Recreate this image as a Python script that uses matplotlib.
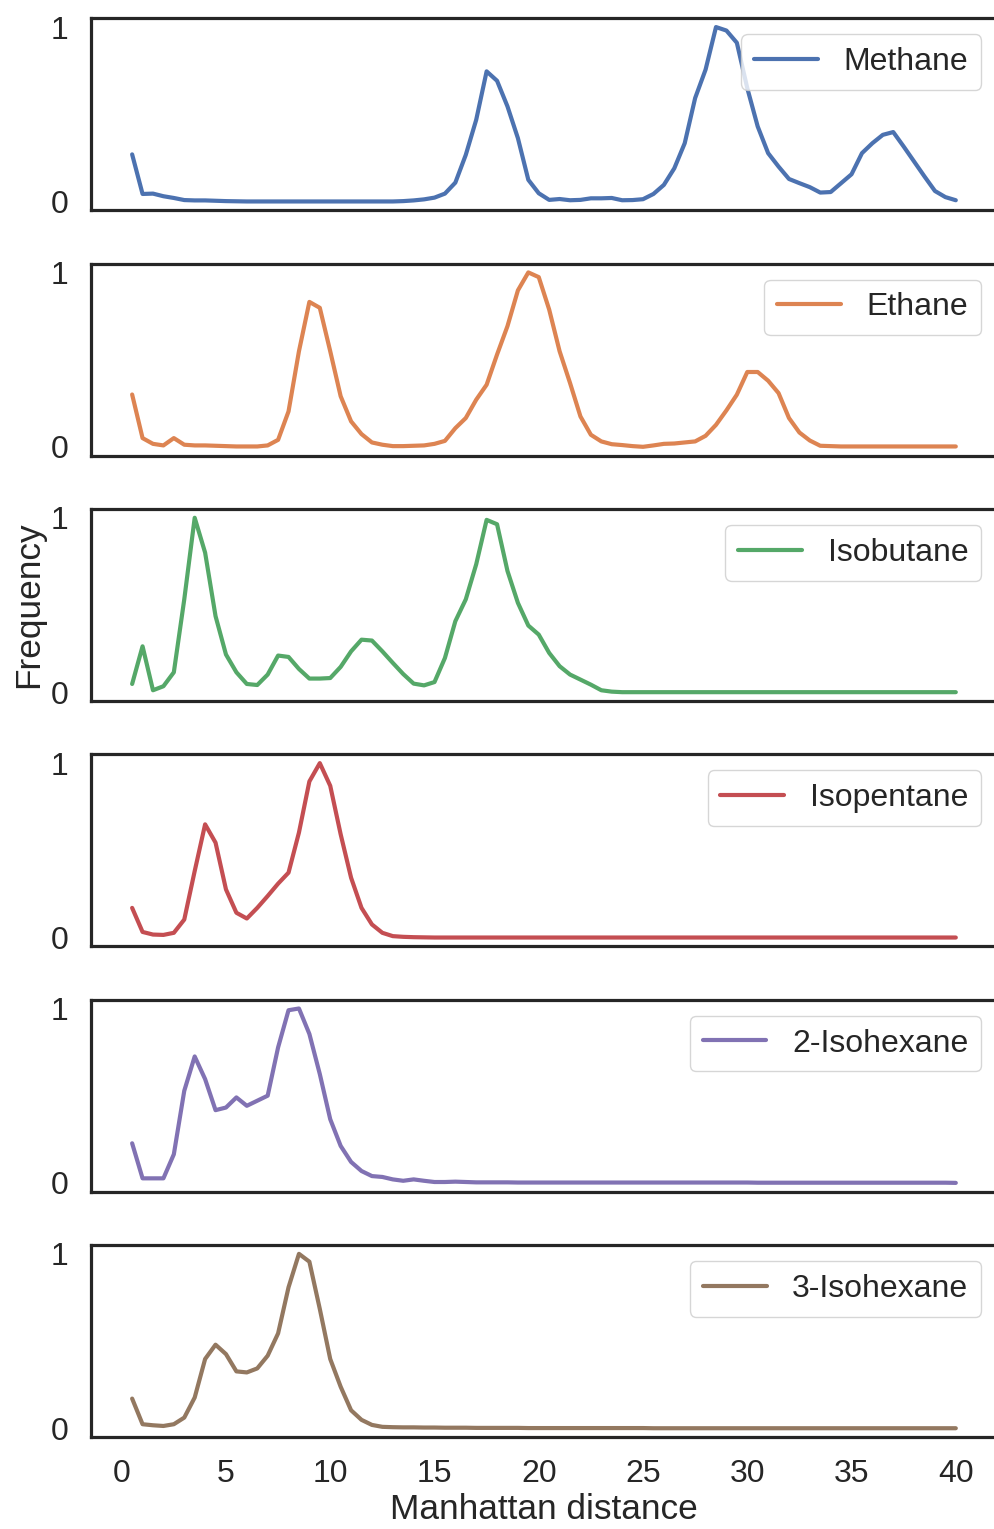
import numpy as np
import matplotlib
matplotlib.use("Agg")
import matplotlib.pyplot as plt
import seaborn as sns

# Manhattan distance grid (0.5 .. 40, step 0.5)
distance = np.arange(1, 81) * 0.5

methane = [
    0.27, 0.043, 0.045, 0.03, 0.02, 0.008, 0.006, 0.006, 0.004, 0.002,
    0.001, 0.0, 0.0, 0.0, 0.0, 0.0, 0.0, 0.0, 0.0, 0.0,
    0.0, 0.0, 0.0, 0.0, 0.0, 0.0, 0.002, 0.006, 0.012, 0.022,
    0.045, 0.108, 0.267, 0.468, 0.746, 0.692, 0.545, 0.363, 0.124, 0.047,
    0.009, 0.014, 0.007, 0.009, 0.018, 0.018, 0.02, 0.007, 0.008, 0.013,
    0.043, 0.095, 0.19, 0.334, 0.593, 0.756, 1.0, 0.98, 0.91, 0.65,
    0.43, 0.277, 0.2, 0.129, 0.105, 0.082, 0.051, 0.054, 0.105, 0.156,
    0.277, 0.334, 0.382, 0.398, 0.315, 0.229, 0.143, 0.06, 0.025, 0.007,
]

ethane = [
    0.30, 0.05, 0.017, 0.008, 0.05, 0.012, 0.008, 0.008, 0.006, 0.004,
    0.002, 0.002, 0.002, 0.008, 0.04, 0.203, 0.548, 0.831, 0.797, 0.548,
    0.29, 0.146, 0.073, 0.025, 0.012, 0.004, 0.004, 0.006, 0.008, 0.017,
    0.034, 0.107, 0.165, 0.27, 0.356, 0.529, 0.692, 0.897, 1.0, 0.973,
    0.787, 0.548, 0.366, 0.174, 0.069, 0.031, 0.015, 0.01, 0.004, 0.0,
    0.008, 0.017, 0.019, 0.025, 0.031, 0.063, 0.126, 0.209, 0.299, 0.429,
    0.429, 0.379, 0.308, 0.165, 0.082, 0.036, 0.006, 0.004, 0.002, 0.002,
    0.002, 0.002, 0.002, 0.002, 0.002, 0.002, 0.002, 0.002, 0.002, 0.002,
]

isobutane = [
    0.047, 0.263, 0.011, 0.034, 0.114, 0.532, 1.0, 0.80, 0.436, 0.216,
    0.114, 0.047, 0.041, 0.101, 0.21, 0.202, 0.133, 0.078, 0.078, 0.081,
    0.145, 0.234, 0.301, 0.296, 0.234, 0.168, 0.104, 0.049, 0.039, 0.058,
    0.196, 0.407, 0.532, 0.733, 0.988, 0.963, 0.695, 0.512, 0.382, 0.33,
    0.225, 0.149, 0.101, 0.072, 0.043, 0.011, 0.003, 0.0, 0.0, 0.0,
    0.0, 0.0, 0.0, 0.0, 0.0, 0.0, 0.0, 0.0, 0.0, 0.0,
    0.0, 0.0, 0.0, 0.0, 0.0, 0.0, 0.0, 0.0, 0.0, 0.0,
    0.0, 0.0, 0.0, 0.0, 0.0, 0.0, 0.0, 0.0, 0.0, 0.0,
]

isopentane = [
    0.17, 0.032, 0.017, 0.015, 0.027, 0.103, 0.381, 0.649, 0.544, 0.276,
    0.142, 0.109, 0.17, 0.238, 0.309, 0.372, 0.602, 0.895, 1.0, 0.87,
    0.592, 0.343, 0.17, 0.075, 0.027, 0.008, 0.004, 0.002, 0.001, 0.0,
    0.0, 0.0, 0.0, 0.0, 0.0, 0.0, 0.0, 0.0, 0.0, 0.0,
    0.0, 0.0, 0.0, 0.0, 0.0, 0.0, 0.0, 0.0, 0.0, 0.0,
    0.0, 0.0, 0.0, 0.0, 0.0, 0.0, 0.0, 0.0, 0.0, 0.0,
    0.0, 0.0, 0.0, 0.0, 0.0, 0.0, 0.0, 0.0, 0.0, 0.0,
    0.0, 0.0, 0.0, 0.0, 0.0, 0.0, 0.0, 0.0, 0.0, 0.0,
]

isohexane_2 = [
    0.227, 0.026, 0.026, 0.026, 0.164, 0.528, 0.725, 0.595, 0.417, 0.432,
    0.49, 0.442, 0.471, 0.5, 0.777, 0.99, 1.0, 0.854, 0.624, 0.365,
    0.212, 0.12, 0.068, 0.039, 0.034, 0.02, 0.012, 0.02, 0.012, 0.005,
    0.005, 0.007, 0.005, 0.003, 0.003, 0.003, 0.003, 0.002, 0.002, 0.002,
    0.002, 0.002, 0.002, 0.002, 0.002, 0.002, 0.002, 0.002, 0.002, 0.002,
    0.002, 0.002, 0.002, 0.002, 0.002, 0.002, 0.002, 0.002, 0.002, 0.002,
    0.001, 0.001, 0.001, 0.001, 0.001, 0.001, 0.001, 0.001, 0.001, 0.001,
    0.001, 0.001, 0.001, 0.001, 0.001, 0.001, 0.001, 0.001, 0.001, 0.0,
]

isohexane_3 = [
    0.17, 0.023, 0.017, 0.013, 0.023, 0.061, 0.176, 0.397, 0.479, 0.425,
    0.326, 0.32, 0.343, 0.416, 0.544, 0.808, 1.0, 0.955, 0.684, 0.397,
    0.238, 0.103, 0.048, 0.019, 0.008, 0.006, 0.005, 0.005, 0.004, 0.004,
    0.003, 0.003, 0.003, 0.002, 0.002, 0.002, 0.002, 0.002, 0.001, 0.001,
    0.001, 0.001, 0.001, 0.001, 0.001, 0.001, 0.001, 0.001, 0.001, 0.001,
    0.0, 0.0, 0.0, 0.0, 0.0, 0.0, 0.0, 0.0, 0.0, 0.0,
    0.0, 0.0, 0.0, 0.0, 0.0, 0.0, 0.0, 0.0, 0.0, 0.0,
    0.0, 0.0, 0.0, 0.0, 0.0, 0.0, 0.0, 0.0, 0.0, 0.0,
]

names = ["Methane", "Ethane", "Isobutane", "Isopentane", "2-Isohexane", "3-Isohexane"]
series = [methane, ethane, isobutane, isopentane, isohexane_2, isohexane_3]
x_ticks = [0, 5, 10, 15, 20, 25, 30, 35, 40]

sns.set_theme(style="white")
plt.rcParams["font.family"] = ["Liberation Sans", "DejaVu Sans"]
colors = sns.color_palette("deep", 6)

FS = 23
LABEL_FS = 25.4

fig, axes = plt.subplots(6, 1, figsize=(9.94, 15.29), dpi=100, sharex=True)
fig.subplots_adjust(left=0.0915, right=1.003, top=0.988, bottom=0.0602, hspace=0.279)

for ax, name, vals, color in zip(axes, names, series, colors):
    ax.plot(distance, vals, color=color, lw=3, label=name)
    ax.set_yticks([0, 1])
    ax.set_yticklabels(["0", "1"])
    ax.tick_params(axis="both", length=0, labelsize=FS, pad=16)
    for spine in ax.spines.values():
        spine.set_linewidth(2.3)
        spine.set_color(".15")
    ax.legend(loc="upper right", fontsize=FS, handlelength=2.0,
              borderpad=0.4, handletextpad=0.8)

axes[-1].set_xticks(x_ticks)
axes[-1].set_xlabel("Manhattan distance", fontsize=LABEL_FS, labelpad=3)
axes[2].set_ylabel("Frequency", fontsize=LABEL_FS, labelpad=4)

fig.savefig("out.png", dpi=100)
